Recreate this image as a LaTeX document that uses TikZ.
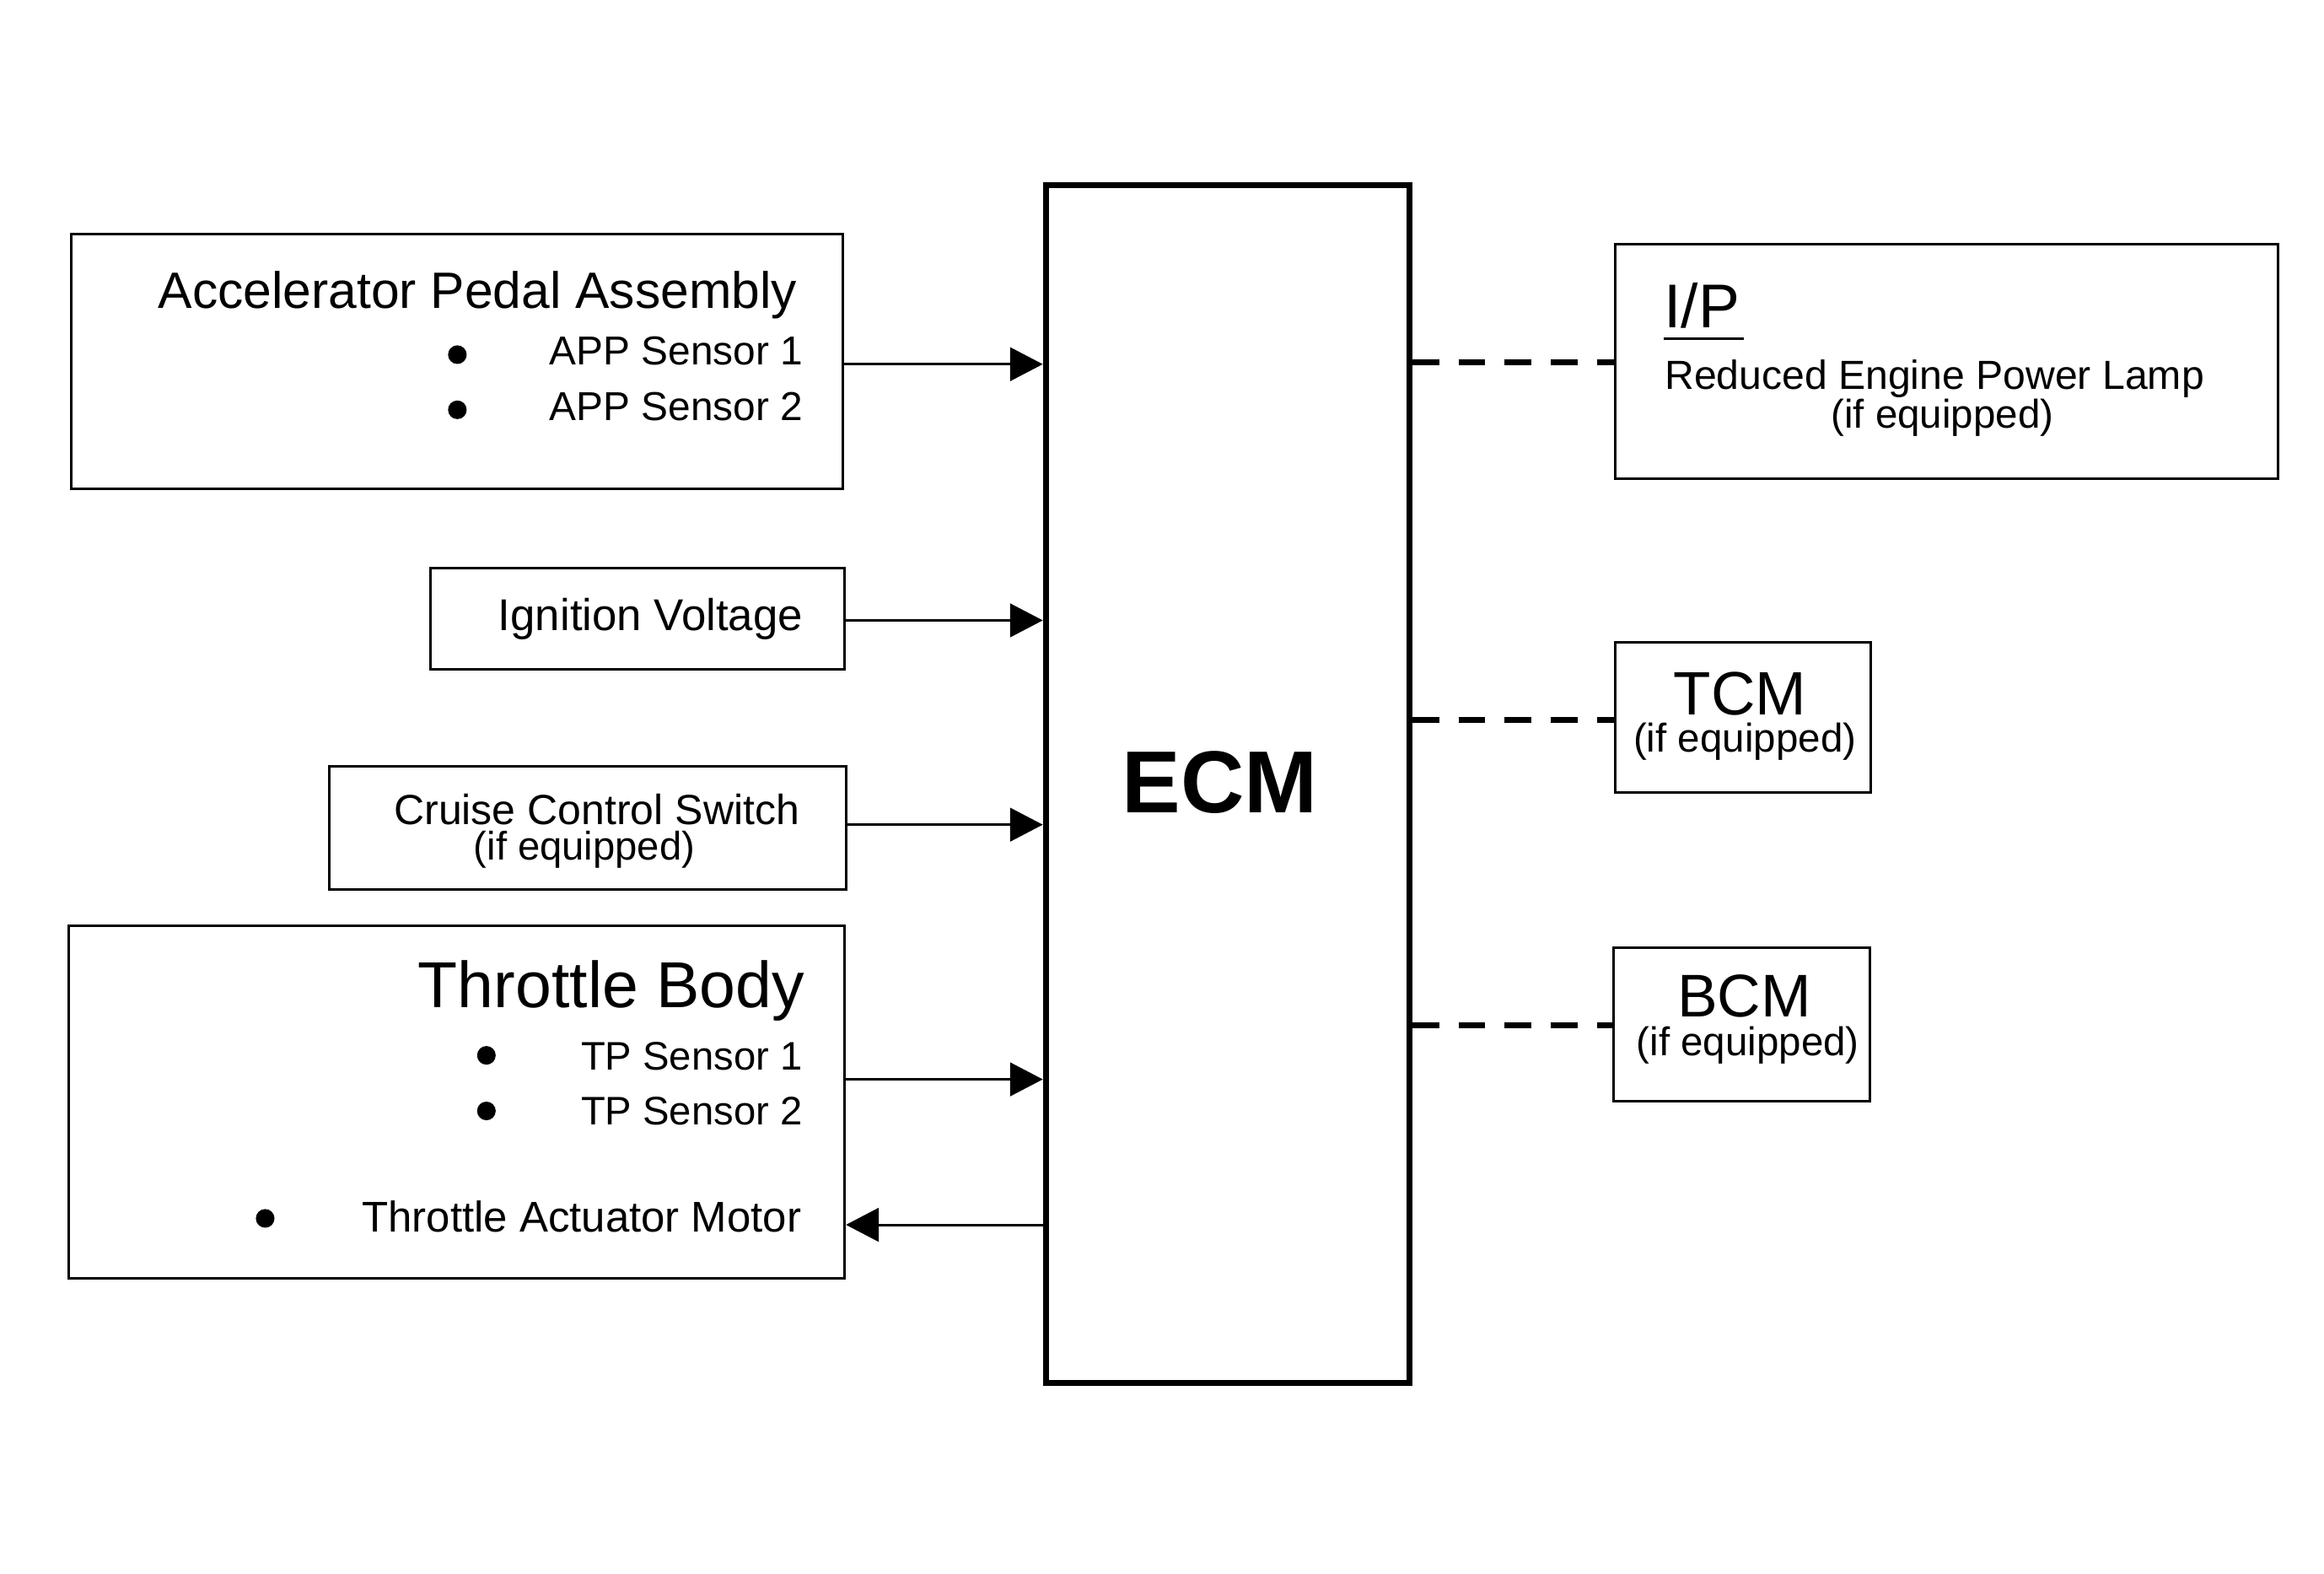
\documentclass[tikz,border=0pt]{standalone}
\usepackage{fontspec}
\setmainfont{Liberation Sans}
\usetikzlibrary{arrows.meta,fit}
\newcommand\myfs[1]{\fontsize{#1pt}{#1pt}\selectfont}
\begin{document}
\begin{tikzpicture}[x=0.01cm,y=-0.01cm,
  box/.style={draw, line width=0.48pt, inner sep=0pt},
  ecmbox/.style={draw, line width=1.14pt, inner sep=0pt},
  txt/.style={inner sep=0pt, outer sep=0pt, anchor=base west},
  bul/.style={circle, fill=black, inner sep=0pt, minimum size=0.125cm},
  conn/.style={line width=0.48pt, -{Triangle[length=0.22cm,width=0.225cm]}},
  dashconn/.style={line width=1.05pt, dash pattern=on 0.18cm off 0.13cm}]
\useasboundingbox (0,0) rectangle (1560,1056.2);

% boxes
\node[box, fit={(48,157) (566,328)}] (app) {};
\node[box, fit={(289,381) (567,449)}] (ign) {};
\node[box, fit={(221,514) (568,597)}] (cru) {};
\node[box, fit={(46,621) (567,858)}] (thr) {};
\node[ecmbox, fit={(702,124) (946,928)}] (ecm) {};
\node[box, fit={(1084,164) (1529,321)}] (ip) {};
\node[box, fit={(1084,431) (1256,532)}] (tcm) {};
\node[box, fit={(1083,636) (1255,739)}] (bcm) {};

% texts
\node[txt, anchor=base east, font={\myfs{9.75}}] (appT) at (535,207) {Accelerator Pedal Assembly};
\node[txt, font={\myfs{7.7}}] (app1) at (369,245) {APP Sensor 1};
\node[txt, font={\myfs{7.7}}] (app2) at (369,282) {APP Sensor 2};
\node[bul] (bA1) at (307,238) {};
\node[bul] (bA2) at (307,275) {};

\node[txt, font={\myfs{8.5}}] (ignT) at (334.5,423.3) {Ignition Voltage};

\node[txt, font={\myfs{8.05}}] (cruT) at (264.5,553.4) {Cruise Control Switch};
\node[txt, font={\myfs{7.6}}] (cruE) at (318,577) {(if equipped)};

\node[txt, anchor=base east, font={\myfs{12.4}}] (thrT) at (540,676) {Throttle Body};
\node[txt, font={\myfs{7.6}}] (tp1) at (390,718) {TP Sensor 1};
\node[txt, font={\myfs{7.6}}] (tp2) at (390,754.6) {TP Sensor 2};
\node[txt, font={\myfs{8.2}}] (tam) at (243,826.7) {Throttle Actuator Motor};
\node[bul] (bT1) at (326.5,708.2) {};
\node[bul] (bT2) at (326.5,745.5) {};
\node[bul] (bT3) at (178,817.6) {};

\node[txt, anchor=base, font={\bfseries\myfs{16.8}}] (ecmT) at (819,545.6) {ECM};

\node[txt, font={\myfs{11.8}}] (ipT) at (1117,220) {I/P};
\draw[line width=0.43pt] ([yshift=-0.073cm]ipT.base west) -- ([xshift=0.03cm,yshift=-0.073cm]ipT.base east);
\node[txt, font={\myfs{7.75}}] (ipL) at (1117.5,261.5) {Reduced Engine Power Lamp};
\node[txt, font={\myfs{7.65}}] (ipE) at (1229,287.5) {(if equipped)};

\node[txt, font={\myfs{11.7}}] (tcmT) at (1123.5,480) {TCM};
\node[txt, font={\myfs{7.65}}] (tcmE) at (1096.5,504.5) {(if equipped)};

\node[txt, font={\myfs{11.5}}] (bcmT) at (1126,682.5) {BCM};
\node[txt, font={\myfs{7.65}}] (bcmE) at (1098.5,708.5) {(if equipped)};

% connector heights
\coordinate (y1) at (0,244.4);
\coordinate (y2) at (0,416.3);
\coordinate (y3) at (0,553.4);
\coordinate (y4) at (0,724.3);
\coordinate (y5) at (0,821.9);
\coordinate (d1) at (0,243);
\coordinate (d2) at (0,483);
\coordinate (d3) at (0,688);

\draw[conn] (app.east |- y1) -- (ecm.west |- y1);
\draw[conn] (ign.east |- y2) -- (ecm.west |- y2);
\draw[conn] (cru.east |- y3) -- (ecm.west |- y3);
\draw[conn] (thr.east |- y4) -- (ecm.west |- y4);
\draw[conn] (ecm.west |- y5) -- (thr.east |- y5);

\draw[dashconn] (ecm.east |- d1) -- (ip.west |- d1);
\draw[dashconn] (ecm.east |- d2) -- (tcm.west |- d2);
\draw[dashconn] (ecm.east |- d3) -- (bcm.west |- d3);
\end{tikzpicture}
\end{document}
